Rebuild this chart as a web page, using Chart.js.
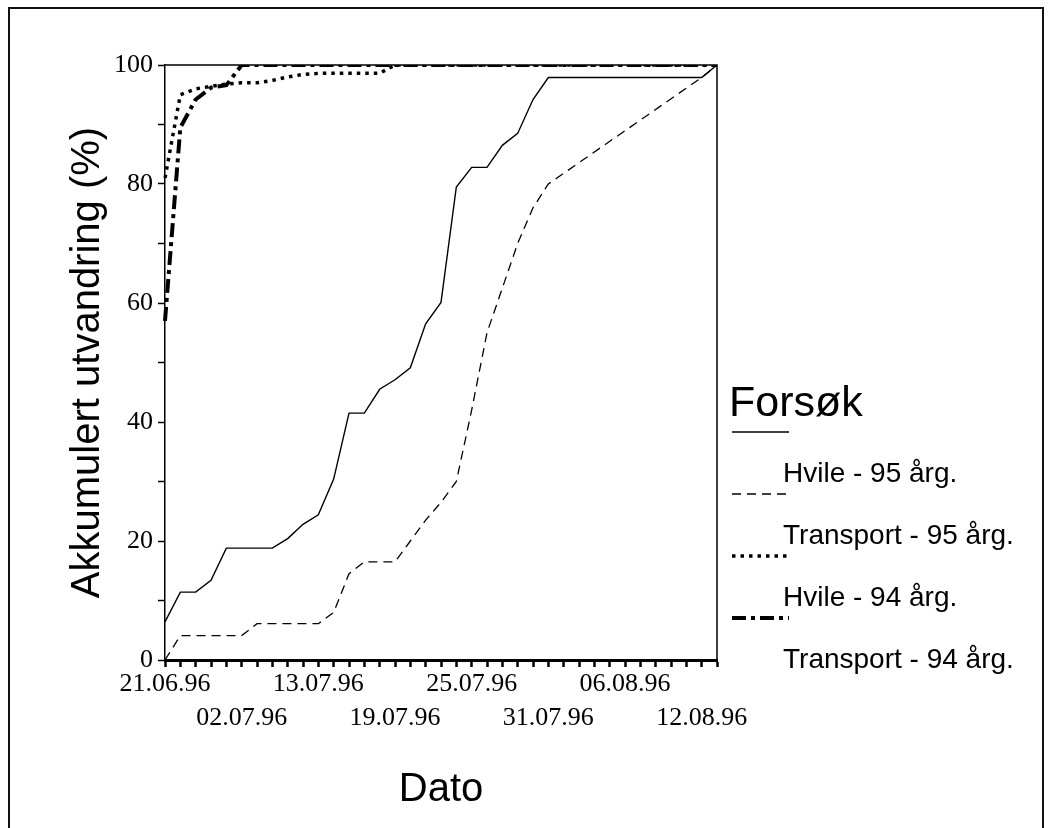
<!DOCTYPE html>
<html>
<head>
<meta charset="utf-8">
<script src="https://cdn.jsdelivr.net/npm/chart.js@4/dist/chart.umd.min.js"></script>
<style>
  html, body { margin: 0; padding: 0; background: #fff; }
  #wrap { position: relative; width: 1049px; height: 828px; }
  canvas { display: block; }
</style>
</head>
<body>
<div id="wrap"><canvas id="c" width="1049" height="828"></canvas></div>
<script>
// ---- data ----
const tickLabels = ['21.06.96', '02.07.96', '13.07.96', '19.07.96', '25.07.96', '31.07.96', '06.08.96', '12.08.96'];
const categoryCount = 37;
const labelStep = 5;

const yTitle = 'Akkumulert utvandring (%)';
const xTitle = 'Dato';
const legendTitle = 'Forsøk';

const seriesNames = ['Hvile - 95 årg.', 'Transport - 95 årg.', 'Hvile - 94 årg.', 'Transport - 94 årg.'];

const hvile95 = [6.4, 11.4, 11.4, 13.4, 18.8, 18.8, 18.8, 18.8, 20.4, 22.8, 24.4, 30.4, 41.5, 41.5, 45.5, 47.1, 49.1, 56.5, 60.1, 79.5, 82.8, 82.8, 86.5, 88.5, 94.2, 97.9, 97.9, 97.9, 97.9, 97.9, 97.9, 97.9, 97.9, 97.9, 97.9, 97.9, 100];
const transport95 = [0, 4.1, 4.1, 4.1, 4.1, 4.1, 6.1, 6.1, 6.1, 6.1, 6.1, 8, 14.5, 16.5, 16.5, 16.5, 20, 23.5, 26.5, 30, 42, 55, 62.5, 70, 76, 80, null, null, null, null, null, null, null, null, null, 97.9, 100];
const hvile94 = [81, 95, 96, 96.4, 96.8, 97, 97, 97.4, 98, 98.4, 98.6, 98.6, 98.6, 98.6, 98.6, 100, 100, 100, 100, 100, 100, 100, 100, 100, 100, 100, 100, 100, 100, 100, 100, 100, 100, 100, 100, 100, 100];
const transport94 = [57, 89.5, 94.2, 96.2, 96.6, 100, 100, 100, 100, 100, 100, 100, 100, 100, 100, 100, 100, 100, 100, 100, 100, 100, 100, 100, 100, 100, 100, 100, 100, 100, 100, 100, 100, 100, 100, 100, 100];

// ---- build category labels from tick labels ----
const labels = Array.from({ length: categoryCount }, (_, i) => (i % labelStep === 0 ? tickLabels[i / labelStep] : ''));

const serif = '"Liberation Serif", "Times New Roman", serif';
const sans = '"Liberation Sans", Arial, sans-serif';

const frameAndLegend = {
  id: 'frameAndLegend',
  beforeDraw(chart) {
    const ctx = chart.ctx;
    ctx.save();
    ctx.fillStyle = '#fff';
    ctx.fillRect(0, 0, chart.width, chart.height);
    ctx.strokeStyle = '#111';
    ctx.lineWidth = 2;
    ctx.beginPath();
    ctx.moveTo(9, 828); ctx.lineTo(9, 8); ctx.lineTo(1043, 8); ctx.lineTo(1043, 828);
    ctx.stroke();
    ctx.restore();
  },
  afterDatasetsDraw(chart) {
    const ctx = chart.ctx;
    const a = chart.chartArea;
    ctx.save();
    ctx.strokeStyle = '#000';
    ctx.lineWidth = 1.5;
    ctx.beginPath();
    ctx.moveTo(a.left, a.top); ctx.lineTo(a.right, a.top); ctx.lineTo(a.right, a.bottom);
    ctx.stroke();
    ctx.restore();
  },
  afterDraw(chart) {
    const ctx = chart.ctx;
    ctx.save();
    ctx.fillStyle = '#000';
    ctx.textBaseline = 'alphabetic';
    ctx.textAlign = 'left';
    ctx.font = '43px ' + sans;
    ctx.fillText(legendTitle, 729, 416);
    chart.data.datasets.forEach((ds, i) => {
      const y = 432 + i * 62;
      ctx.beginPath();
      ctx.setLineDash(ds.borderDash || []);
      ctx.lineWidth = ds.borderWidth;
      ctx.strokeStyle = ds.borderColor;
      ctx.lineCap = 'butt';
      ctx.moveTo(732, y);
      ctx.lineTo(789, y);
      ctx.stroke();
      ctx.setLineDash([]);
      ctx.font = '28px ' + sans;
      ctx.fillText(ds.label, 783, y + 50);
    });
    ctx.restore();
  }
};

const styles = [
  { borderWidth: 1.4, borderDash: [], order: 3 },
  { borderWidth: 1.3, borderDash: [9, 6], order: 2 },
  { borderWidth: 3.5, borderDash: [3.5, 5], order: 1 },
  { borderWidth: 4, borderDash: [14, 5, 4, 5], order: 0 }
];
const seriesData = [hvile95, transport95, hvile94, transport94];

new Chart(document.getElementById('c'), {
  type: 'line',
  data: {
    labels: labels,
    datasets: seriesData.map((d, i) => ({
      label: seriesNames[i],
      data: d,
      borderColor: '#000',
      backgroundColor: '#000',
      borderWidth: styles[i].borderWidth,
      borderDash: styles[i].borderDash,
      order: styles[i].order,
      pointRadius: 0,
      tension: 0,
      spanGaps: true,
      fill: false
    }))
  },
  options: {
    responsive: false,
    animation: false,
    devicePixelRatio: 1,
    layout: { padding: { left: 60, right: 332, top: 65, bottom: 10 } },
    plugins: { legend: { display: false }, tooltip: { enabled: false } },
    scales: {
      x: {
        type: 'category',
        offset: false,
        grid: { display: true, drawOnChartArea: false, drawTicks: true, tickLength: 7, tickColor: '#000', tickWidth: 2.5 },
        border: { display: true, color: '#000', width: 3 },
        ticks: {
          autoSkip: false, maxRotation: 0, minRotation: 0, padding: 0,
          color: '#000',
          font: { family: serif, size: 26, lineHeight: 1.3 },
          callback: function (v, i) {
            const s = labels[i];
            if (!s) return '';
            return ((i / labelStep) % 2 === 0) ? [s, ''] : ['', s];
          }
        },
        title: { display: true, text: xTitle, color: '#000', font: { family: sans, size: 40, lineHeight: 1.2 } },
        afterFit: (scale) => { scale.height = 158; }
      },
      y: {
        min: 0, max: 100,
        grid: { display: true, drawOnChartArea: false, drawTicks: true, tickLength: 7, tickColor: '#000', tickWidth: 1.5 },
        border: { display: true, color: '#000', width: 1.5 },
        ticks: {
          stepSize: 10, padding: 5, color: '#000',
          font: { family: serif, size: 26 },
          callback: (v) => (v % 20 === 0 ? String(v) : '')
        },
        title: { display: true, text: yTitle, color: '#000', font: { family: sans, size: 40, lineHeight: 1.2 } },
        afterFit: (scale) => { scale.width = 105; }
      }
    }
  },
  plugins: [frameAndLegend]
});
</script>
</body>
</html>
